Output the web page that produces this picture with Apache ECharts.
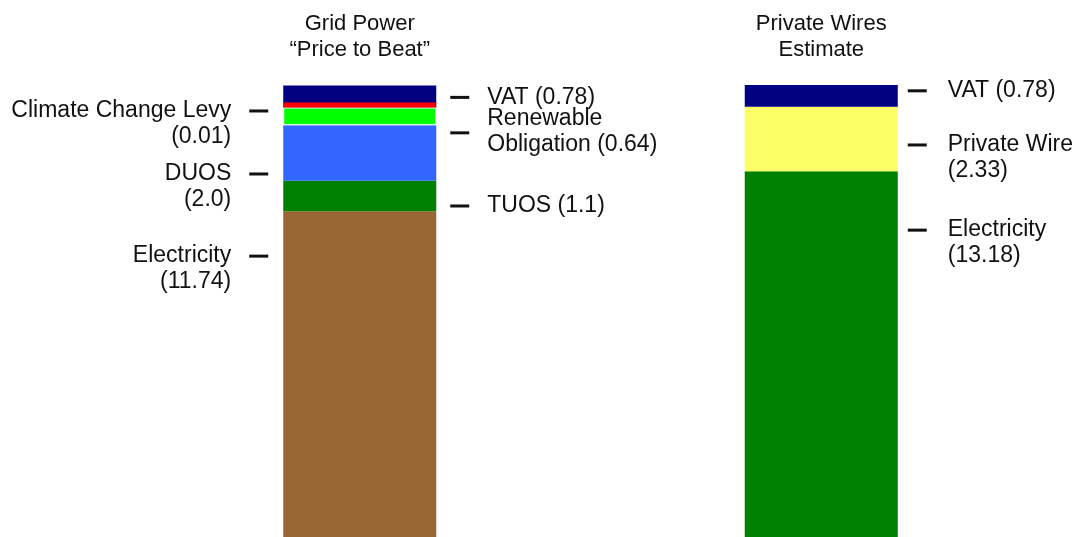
<!DOCTYPE html>
<html>
<head>
<meta charset="utf-8">
<script src="https://cdn.jsdelivr.net/npm/echarts@6/dist/echarts.min.js"></script>
<style>
  html, body { margin: 0; padding: 0; background: #fff; }
  #chart { width: 1076px; height: 537px; }
</style>
</head>
<body>
<div id="chart"></div>
<script>
// columns (two stacked bars)
const columns = ['Grid Power\n\u201cPrice to Beat\u201d', 'Private Wires\nEstimate']

// grid power components, bottom to top
const gridNames = ['Electricity', 'TUOS', 'DUOS', 'Renewable Obligation', 'Climate Change Levy', 'VAT']
const gridValues = [11.74, 1.1, 2.0, 0.64, 0.01, 0.78]
const gridValueText = ['11.74', '1.1', '2.0', '0.64', '0.01', '0.78']

// private wire components, bottom to top
const wireNames = ['Electricity', 'Private Wire', 'VAT']
const wireValues = [13.18, 2.33, 0.78]
const wireValueText = ['13.18', '2.33', '0.78']

const gridColors = ['#996633', '#008000', '#3366ff', '#00ff00', '#ff0000', '#000080']
const wireColors = ['#008000', '#ffff66', '#000080']

// label placement: side of the bar, layout kind, vertical nudge
const gridLabelPos = [
  { side: 'left', kind: 'two', dy: -105 },
  { side: 'right', kind: 'one', dy: 10 },
  { side: 'left', kind: 'two', dy: 34 },
  { side: 'right', kind: 'wrap', dy: 15 },
  { side: 'left', kind: 'two', dy: 19 },
  { side: 'right', kind: 'one', dy: 1 }
]
const wireLabelPos = [
  { side: 'right', kind: 'two', dy: -111 },
  { side: 'right', kind: 'two', dy: 19 },
  { side: 'right', kind: 'one', dy: -5 }
]

const font = '"Liberation Sans", Arial, sans-serif'
const textColor = '#111111'

const rich = {
  t: { fontSize: 23, fontFamily: font, color: textColor, lineHeight: 26 },
  g: { width: 18, lineHeight: 26 },
  g2: { width: 21, lineHeight: 26 },
  d: { width: 19, height: 3, backgroundColor: '#111' },
  dt: { width: 19, height: 3, backgroundColor: '#111', verticalAlign: 'top' },
  s: { width: 19, lineHeight: 26 }
}

const labelText = (name, val, pos, wide) => {
  const g = wide ? 'g2' : 'g'
  if (pos.side === 'left') {
    return `{t|${name}}{${g}| }{d| }\n{t|(${val})}{${g}| }{s| }`
  }
  if (pos.kind === 'one') return `{d| }{${g}| }{t|${name} (${val})}`
  if (pos.kind === 'wrap') {
    const parts = name.split(' ')
    return `{s| }{${g}| }{t|${parts[0]}}\n{dt| }{${g}| }{t|${parts.slice(1).join(' ')} (${val})}`
  }
  return `{d| }{${g}| }{t|${name}}\n{s| }{${g}| }{t|(${val})}`
}

const series = []

gridNames.forEach((name, i) => {
  const pos = gridLabelPos[i]
  series.push({
    name: 'grid-' + name,
    type: 'bar',
    stack: 'total',
    barWidth: 153,
    z: name === 'Climate Change Levy' ? 3 : 2,
    barMinHeight: name === 'Climate Change Levy' ? 5 : 0,
    data: [gridValues[i], '-'],
    itemStyle: {
      color: gridColors[i],
      borderColor: name === 'Renewable Obligation' ? '#ffffff' : undefined,
      borderWidth: name === 'Renewable Obligation' ? 1 : 0
    },
    label: {
      show: true,
      position: pos.side,
      distance: pos.side === 'left' ? 15 : 14,
      offset: [0, pos.dy],
      align: pos.side === 'left' ? 'right' : 'left',
      formatter: () => labelText(name, gridValueText[i], pos, false),
      rich: rich
    },
    emphasis: { disabled: true }
  })
})

wireNames.forEach((name, i) => {
  const pos = wireLabelPos[i]
  series.push({
    name: 'wire-' + name,
    type: 'bar',
    stack: 'total',
    barWidth: 153,
    data: ['-', wireValues[i]],
    itemStyle: { color: wireColors[i] },
    label: {
      show: true,
      position: 'right',
      distance: 10,
      offset: [0, pos.dy],
      align: 'left',
      formatter: () => labelText(name, wireValueText[i], pos, true),
      rich: rich
    },
    emphasis: { disabled: true }
  })
})

const sum = arr => arr.reduce((a, b) => a + b, 0)
const yMax = Math.max(sum(gridValues), sum(wireValues))

const chart = echarts.init(document.getElementById('chart'), null, { renderer: 'canvas' })
chart.setOption({
  animation: false,
  backgroundColor: '#ffffff',
  grid: { left: 129, right: 24, top: 85, bottom: 0 },
  xAxis: {
    type: 'category',
    data: columns,
    position: 'top',
    axisLine: { show: false },
    axisTick: { show: false },
    axisLabel: {
      margin: 22,
      fontSize: 22,
      lineHeight: 26,
      fontFamily: font,
      color: textColor
    }
  },
  yAxis: {
    type: 'value',
    min: 0,
    max: yMax,
    show: false,
    splitLine: { show: false }
  },
  series: series
})
</script>
</body>
</html>
